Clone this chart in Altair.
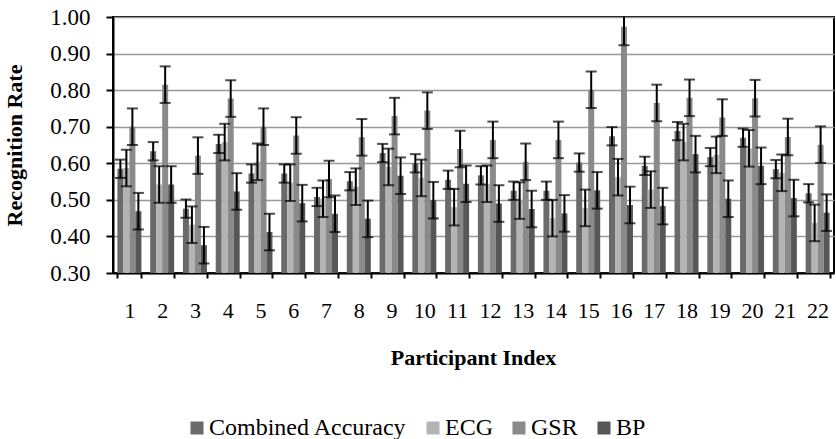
import altair as alt
import pandas as pd

participants = [str(i) for i in range(1, 23)]
series_order = ["Combined Accuracy", "ECG", "GSR", "BP"]
series_colors = ["#6a6a6a", "#b4b4b4", "#8a8a8a", "#575757"]

combined = [0.585, 0.633, 0.476, 0.653, 0.572, 0.572, 0.508, 0.551, 0.628, 0.600, 0.555,
            0.567, 0.525, 0.525, 0.602, 0.674, 0.593, 0.688, 0.617, 0.670, 0.584, 0.518]
ecg = [0.587, 0.542, 0.432, 0.658, 0.604, 0.547, 0.503, 0.536, 0.590, 0.560, 0.480,
       0.544, 0.498, 0.450, 0.478, 0.562, 0.528, 0.658, 0.623, 0.641, 0.574, 0.437]
gsr = [0.700, 0.815, 0.621, 0.777, 0.700, 0.676, 0.557, 0.671, 0.729, 0.744, 0.639,
       0.664, 0.604, 0.664, 0.801, 0.973, 0.765, 0.779, 0.725, 0.778, 0.672, 0.651]
bp = [0.469, 0.542, 0.376, 0.523, 0.412, 0.491, 0.462, 0.448, 0.566, 0.499, 0.544,
      0.490, 0.475, 0.463, 0.526, 0.486, 0.483, 0.625, 0.503, 0.593, 0.505, 0.465]

err_combined = [0.025, 0.025, 0.025, 0.025, 0.025, 0.025, 0.025, 0.025, 0.025, 0.025, 0.025,
                0.025, 0.025, 0.025, 0.025, 0.025, 0.025, 0.025, 0.025, 0.025, 0.025, 0.025]
err_ecg = [0.05, 0.05, 0.05, 0.05, 0.05, 0.05, 0.05, 0.05, 0.05, 0.05, 0.05,
           0.05, 0.05, 0.05, 0.05, 0.05, 0.05, 0.05, 0.05, 0.05, 0.05, 0.05]
err_gsr = [0.05, 0.05, 0.05, 0.05, 0.05, 0.05, 0.05, 0.05, 0.05, 0.05, 0.05,
           0.05, 0.05, 0.05, 0.05, 0.05, 0.05, 0.05, 0.05, 0.05, 0.05, 0.05]
err_bp = [0.05, 0.05, 0.05, 0.05, 0.05, 0.05, 0.05, 0.05, 0.05, 0.05, 0.05,
          0.05, 0.05, 0.05, 0.05, 0.05, 0.05, 0.05, 0.05, 0.05, 0.05, 0.05]

y_ticks = [0.3, 0.4, 0.5, 0.6, 0.7, 0.8, 0.9, 1.0]

rows = []
for name, vals, errs in zip(series_order, [combined, ecg, gsr, bp],
                            [err_combined, err_ecg, err_gsr, err_bp]):
    for p, v, e in zip(participants, vals, errs):
        rows.append({"Participant": p, "Series": name, "value": v,
                     "lo": v - e, "hi": v + e})
df = pd.DataFrame(rows)

FONT = "Liberation Serif"

x_axis = alt.Axis(title="Participant Index", labelAngle=0,
                  tickBand="extent", tickSize=5, tickWidth=2, tickColor="black",
                  domainColor="black", domainWidth=2,
                  labelFont=FONT, labelFontSize=22, labelColor="black",
                  labelBaseline="alphabetic", labelPadding=39, labelOverlap=False,
                  titleFont=FONT, titleFontSize=22, titleFontWeight="bold",
                  titleColor="black", titleBaseline="alphabetic",
                  titleY=91, titleX=360, titleAlign="center", grid=False)
y_axis = alt.Axis(title="Recognition Rate", values=y_ticks, format=".2f",
                  tickSize=7, tickWidth=2, tickColor="black",
                  domainColor="black", domainWidth=2,
                  gridColor="#999999", gridWidth=1.5,
                  labelFont=FONT, labelFontSize=23, labelColor="black",
                  labelPadding=16, labelOverlap=False, labelFlush=False,
                  labelBound=False,
                  titleFont=FONT, titleFontSize=22, titleFontWeight="bold",
                  titleColor="black", titleAngle=270,
                  titleBaseline="alphabetic", titleAlign="center",
                  titleX=-92, titleY=128)

x_scale = alt.Scale(paddingInner=0.268, paddingOuter=0.134)
xo_scale = alt.Scale(paddingInner=0, paddingOuter=0)
y_scale = alt.Scale(domain=[0.3, 1.0], zero=False, nice=False)


def xenc():
    return alt.X("Participant:O", sort=participants, scale=x_scale, axis=x_axis)


def xoenc():
    return alt.XOffset("Series:N", sort=series_order, scale=xo_scale)


bars = alt.Chart(df).mark_bar().encode(
    x=xenc(),
    xOffset=xoenc(),
    y=alt.Y("value:Q", scale=y_scale, axis=y_axis),
    y2=alt.datum(0.3),
    color=alt.Color("Series:N", sort=series_order,
                    scale=alt.Scale(domain=series_order, range=series_colors),
                    legend=alt.Legend(title=None, orient="none", direction="horizontal",
                                      legendX=72, legendY=399,
                                      symbolType="square", symbolSize=169,
                                      symbolStrokeWidth=0,
                                      labelFont=FONT, labelFontSize=24,
                                      labelColor="black", labelOffset=0,
                                      labelLimit=0, columnPadding=14)),
)

rules = alt.Chart(df).mark_rule(color="black", strokeWidth=2, clip=True).encode(
    x=xenc(),
    xOffset=xoenc(),
    y=alt.Y("lo:Q", scale=y_scale, axis=y_axis),
    y2="hi:Q",
)
caps_lo = alt.Chart(df).mark_tick(color="black", thickness=2, size=11, clip=True).encode(
    x=xenc(),
    xOffset=xoenc(),
    y=alt.Y("lo:Q", scale=y_scale, axis=y_axis),
)
caps_hi = alt.Chart(df).mark_tick(color="black", thickness=2, size=11, clip=True).encode(
    x=xenc(),
    xOffset=xoenc(),
    y=alt.Y("hi:Q", scale=y_scale, axis=y_axis),
)

chart = alt.layer(bars, rules, caps_lo, caps_hi).properties(
    width=721, height=256,
    autosize=alt.AutoSizeParams(type="none"),
    padding={"left": 113, "top": 17, "right": 2, "bottom": 166},
    background="white",
).configure_view(stroke="black", strokeWidth=2)

chart.save("out.html", embed_options={"renderer": "svg", "actions": False})
